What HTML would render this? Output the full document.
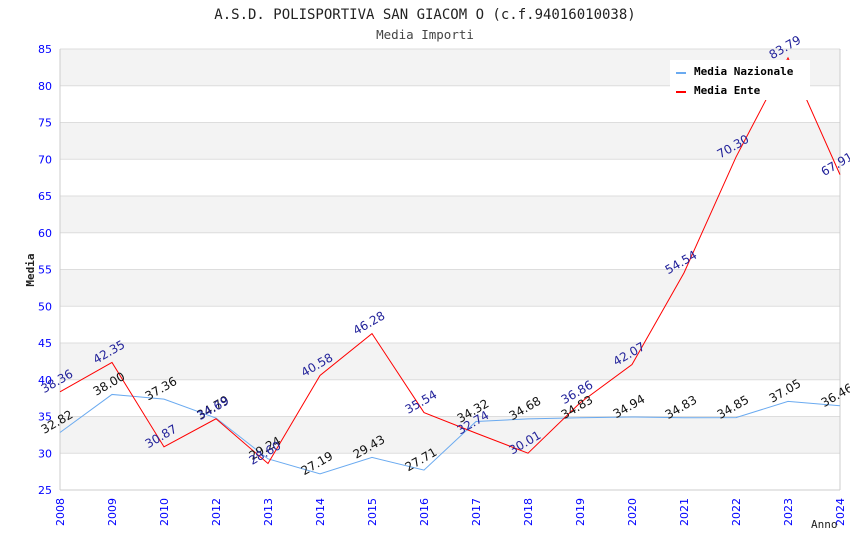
<!DOCTYPE html>
<html><head><meta charset="utf-8"><style>
body{margin:0;background:#fff;}
svg{display:block;font-family:"DejaVu Sans Mono","Liberation Mono",monospace;}
</style></head><body>
<svg id="chart" width="850" height="550" viewBox="0 0 850 550">
<text x="425" y="19" text-anchor="middle" font-size="14" fill="#222">A.S.D. POLISPORTIVA SAN GIACOM O (c.f.94016010038)</text>
<text x="425" y="39" text-anchor="middle" font-size="12.5" fill="#444">Media Importi</text>
<g id="bands"></g>
<g id="grid"></g>
<g id="axes"></g>
<g id="series"></g>
<g id="labels"></g>
<text transform="translate(34,270) rotate(-90)" text-anchor="middle" font-size="11" font-weight="bold" fill="#222">Media</text>
<text x="811" y="528" font-size="11" fill="#222">Anno</text>
<g>
<rect x="670" y="60" width="140" height="40" fill="#fff"/>
<rect x="676" y="72" width="10" height="2" fill="#6aaaf0"/>
<text x="694" y="75" font-size="11" font-weight="bold" fill="#000">Media Nazionale</text>
<rect x="676" y="91" width="10" height="2" fill="#f00"/>
<text x="694" y="94" font-size="11" font-weight="bold" fill="#000">Media Ente</text>
</g>
</svg>
<script>
const categories=["2008","2009","2010","2012","2013","2014","2015","2016","2017","2018","2019","2020","2021","2022","2023","2024"];
const nazionale=[32.82,38.00,37.36,34.79,29.24,27.19,29.43,27.71,34.32,34.68,34.83,34.94,34.83,34.85,37.05,36.46];
const ente=[38.36,42.35,30.87,34.69,28.60,40.58,46.28,35.54,32.74,30.01,36.86,42.07,54.54,70.30,83.79,67.91];
const yTicks=[25,30,35,40,45,50,55,60,65,70,75,80,85];
const X0=60,X1=840,Y0=490,Y1=49,YMIN=25,YMAX=85;
const NS="http://www.w3.org/2000/svg";
function x(i){return X0+i*(X1-X0)/(categories.length-1);}
function y(v){return Y0-(v-YMIN)*(Y0-Y1)/(YMAX-YMIN);}
function mk(tag,attrs,parent,txt){const e=document.createElementNS(NS,tag);for(const k in attrs)e.setAttribute(k,attrs[k]);if(txt!==undefined)e.textContent=txt;document.getElementById(parent).appendChild(e);return e;}
for(let i=0;i<yTicks.length-1;i++){
 if(i%2===1){const r=mk('rect',{x:X0,y:y(yTicks[i+1]),width:X1-X0,height:y(yTicks[i])-y(yTicks[i+1]),fill:'#f3f3f3'},'bands');
 
 }
}
yTicks.forEach(t=>{
 const l=mk('line',{x1:X0,x2:X1,y1:y(t),y2:y(t),stroke:'#ddd','stroke-width':1},'grid');
 
 
 const tx=mk('text',{x:X0-8,y:y(t)+4,'text-anchor':'end','font-size':11,fill:'#00f','font-family':'DejaVu Sans, sans-serif'},'axes',String(t));
 
 
});
mk('line',{x1:X0,x2:X0,y1:Y1,y2:Y0,stroke:'#ccc'},'axes');
mk('line',{x1:X1,x2:X1,y1:Y1,y2:Y0,stroke:'#ccc'},'axes');
mk('line',{x1:X0,x2:X1,y1:Y0,y2:Y0,stroke:'#ccc'},'axes');
categories.forEach((c,i)=>{
 const t=mk('text',{transform:`translate(${x(i)+4},${Y0+8}) rotate(-90)`,'text-anchor':'end','font-size':11,fill:'#00f','font-family':'DejaVu Sans, sans-serif'},'axes',c);
 
 
});
function series(vals,color,name,lblColor){
 const p=mk('polyline',{points:vals.map((v,i)=>x(i)+','+y(v)).join(' '),fill:'none',stroke:color,'stroke-width':1},'series');
 
 
 vals.forEach((v,i)=>{
  const t=mk('text',{transform:`translate(${x(i)-1},${y(v)-7}) rotate(-30)`,'text-anchor':'middle','font-size':12,fill:lblColor,'font-family':'DejaVu Sans, sans-serif'},'labels',v.toFixed(2));
  
  
 });
}
series(nazionale,'#6aaaf0','media-nazionale-line','#111');
series(ente,'#f00','media-ente-line','#22229a');
</script>
</body></html>
